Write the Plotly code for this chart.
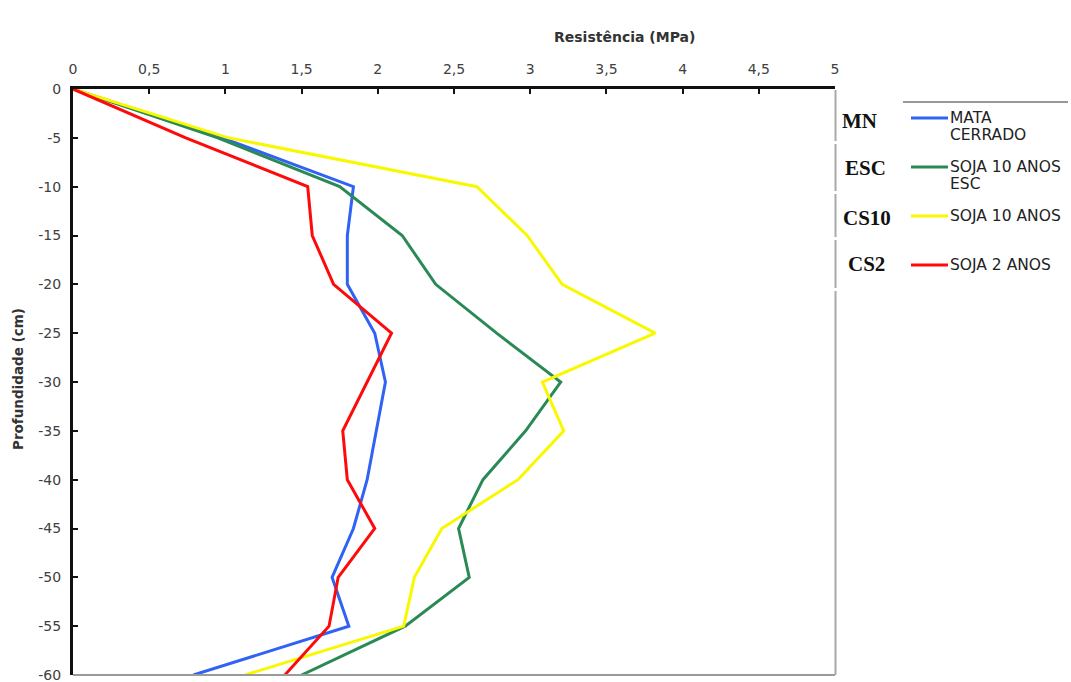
import plotly.graph_objects as go

# ---- data ----
depth = [0, -5, -10, -15, -20, -25, -30, -35, -40, -45, -50, -55, -60]
mata_cerrado = [0, 0.98, 1.84, 1.80, 1.80, 1.98, 2.05, 1.99, 1.93, 1.84, 1.70, 1.81, 0.79]
soja10_esc = [0, 0.95, 1.75, 2.16, 2.38, 2.78, 3.20, 2.97, 2.69, 2.53, 2.60, 2.18, 1.50]
soja10 = [0, 1.02, 2.65, 2.98, 3.21, 3.82, 3.08, 3.22, 2.92, 2.42, 2.24, 2.17, 1.13]
soja2 = [0, 0.74, 1.54, 1.57, 1.71, 2.09, 1.93, 1.77, 1.80, 1.98, 1.74, 1.68, 1.39]

x_tickvals = [0, 0.5, 1, 1.5, 2, 2.5, 3, 3.5, 4, 4.5, 5]
x_ticktext = ["0", "0,5", "1", "1,5", "2", "2,5", "3", "3,5", "4", "4,5", "5"]
y_tickvals = [0, -5, -10, -15, -20, -25, -30, -35, -40, -45, -50, -55, -60]
y_ticktext = ["0", "-5", "-10", "-15", "-20", "-25", "-30", "-35", "-40", "-45", "-50", "-55", "-60"]

series_names = ["MATA<br>CERRADO", "SOJA 10 ANOS<br>ESC", "SOJA 10 ANOS", "SOJA 2 ANOS"]
series_codes = ["MN", "ESC", "CS10", "CS2"]
colors = ["#2F62F5", "#2A8A55", "#F8F800", "#FF0A0A"]

W, H = 1071, 682
L, R, T, B = 73, 835, 89, 675

def px(x):
    return (x - L) / (R - L)

def py(y):
    return (B - y) / (B - T)

fig = go.Figure()
for vals, c, nm in [(mata_cerrado, colors[0], series_names[0]),
                    (soja10_esc, colors[1], series_names[1]),
                    (soja10, colors[2], series_names[2]),
                    (soja2, colors[3], series_names[3])]:
    fig.add_trace(go.Scatter(x=vals, y=depth, mode="lines", name=nm.replace("<br>", " "),
                             line=dict(color=c, width=3), showlegend=False,
                             cliponaxis=True))

tickfont = dict(family="DejaVu Sans", size=14, color="#404040")

fig.update_layout(
    width=W, height=H,
    margin=dict(l=L, r=W - R, t=T, b=H - B, autoexpand=False),
    paper_bgcolor="white", plot_bgcolor="white",
    xaxis=dict(side="top", range=[0, 5], tickvals=x_tickvals, ticktext=x_ticktext,
               showgrid=False, zeroline=False, showline=True, linecolor="#111111",
               linewidth=3, ticks="inside", ticklen=5, tickwidth=2, tickcolor="#111111",
               tickfont=tickfont, ticklabelstandoff=6, ticklabeloverflow="allow",
               automargin=False),
    yaxis=dict(range=[-60, 0], tickvals=y_tickvals, ticktext=y_ticktext,
               showgrid=False, zeroline=False, showline=True, linecolor="#111111",
               linewidth=3, ticks="inside", ticklen=5, tickwidth=2, tickcolor="#111111",
               tickfont=tickfont, ticklabelstandoff=6, ticklabeloverflow="allow",
               automargin=False),
    font=dict(family="DejaVu Sans"),
)

shapes = []
# bottom grey border
shapes.append(dict(type="line", xref="paper", yref="paper", x0=0, x1=1, y0=py(675), y1=py(675),
                   line=dict(color="#9A9A9A", width=2)))
# right grey border in segments
for y0, y1 in [(90, 141), (144, 191), (194, 237), (240, 288), (291, 675)]:
    shapes.append(dict(type="line", xref="paper", yref="paper", x0=px(835.5), x1=px(835.5),
                       y0=py(y0), y1=py(y1), line=dict(color="#A8A8A8", width=2)))
# legend top rule
shapes.append(dict(type="line", xref="paper", yref="paper", x0=px(903), x1=px(1068),
                   y0=py(102), y1=py(102), line=dict(color="#333333", width=1)))

legend_line_y = [118, 167, 216, 265]
legend_text_rows = [[118, 135], [167, 184], [216], [265]]
code_y = [121, 167.5, 218, 263.5]
code_x = [859, 865, 866.5, 866.5]
annotations = []
for i in range(4):
    shapes.append(dict(type="line", xref="paper", yref="paper", x0=px(911), x1=px(948),
                       y0=py(legend_line_y[i]), y1=py(legend_line_y[i]),
                       line=dict(color=colors[i], width=3)))
    for part, ty in zip(series_names[i].split("<br>"), legend_text_rows[i]):
        annotations.append(dict(xref="paper", yref="paper", x=px(948), y=py(ty),
                                text=part, showarrow=False, xanchor="left", yanchor="middle",
                                align="left",
                                font=dict(family="DejaVu Sans", size=15.5, color="#222222")))
    annotations.append(dict(xref="paper", yref="paper", x=px(code_x[i]), y=py(code_y[i]),
                            text="<b>" + series_codes[i] + "</b>", showarrow=False,
                            xanchor="center", yanchor="middle",
                            font=dict(family="Liberation Serif, Times New Roman", size=21, color="#111111")))

annotations.append(dict(xref="paper", yref="paper", x=px(624), y=py(37),
                        text="<b>Resistência (MPa)</b>", showarrow=False,
                        xanchor="center", yanchor="middle",
                        font=dict(family="DejaVu Sans", size=14, color="#333333")))
annotations.append(dict(xref="paper", yref="paper", x=px(18), y=py(379),
                        text="<b>Profundidade (cm)</b>", showarrow=False, textangle=-90,
                        xanchor="center", yanchor="middle",
                        font=dict(family="DejaVu Sans", size=13.5, color="#333333")))

fig.update_layout(shapes=shapes, annotations=annotations)
fig.write_html("out.html", config={"displayModeBar": False},
               post_script="document.body.style.margin='0';document.body.style.overflow='hidden';")
